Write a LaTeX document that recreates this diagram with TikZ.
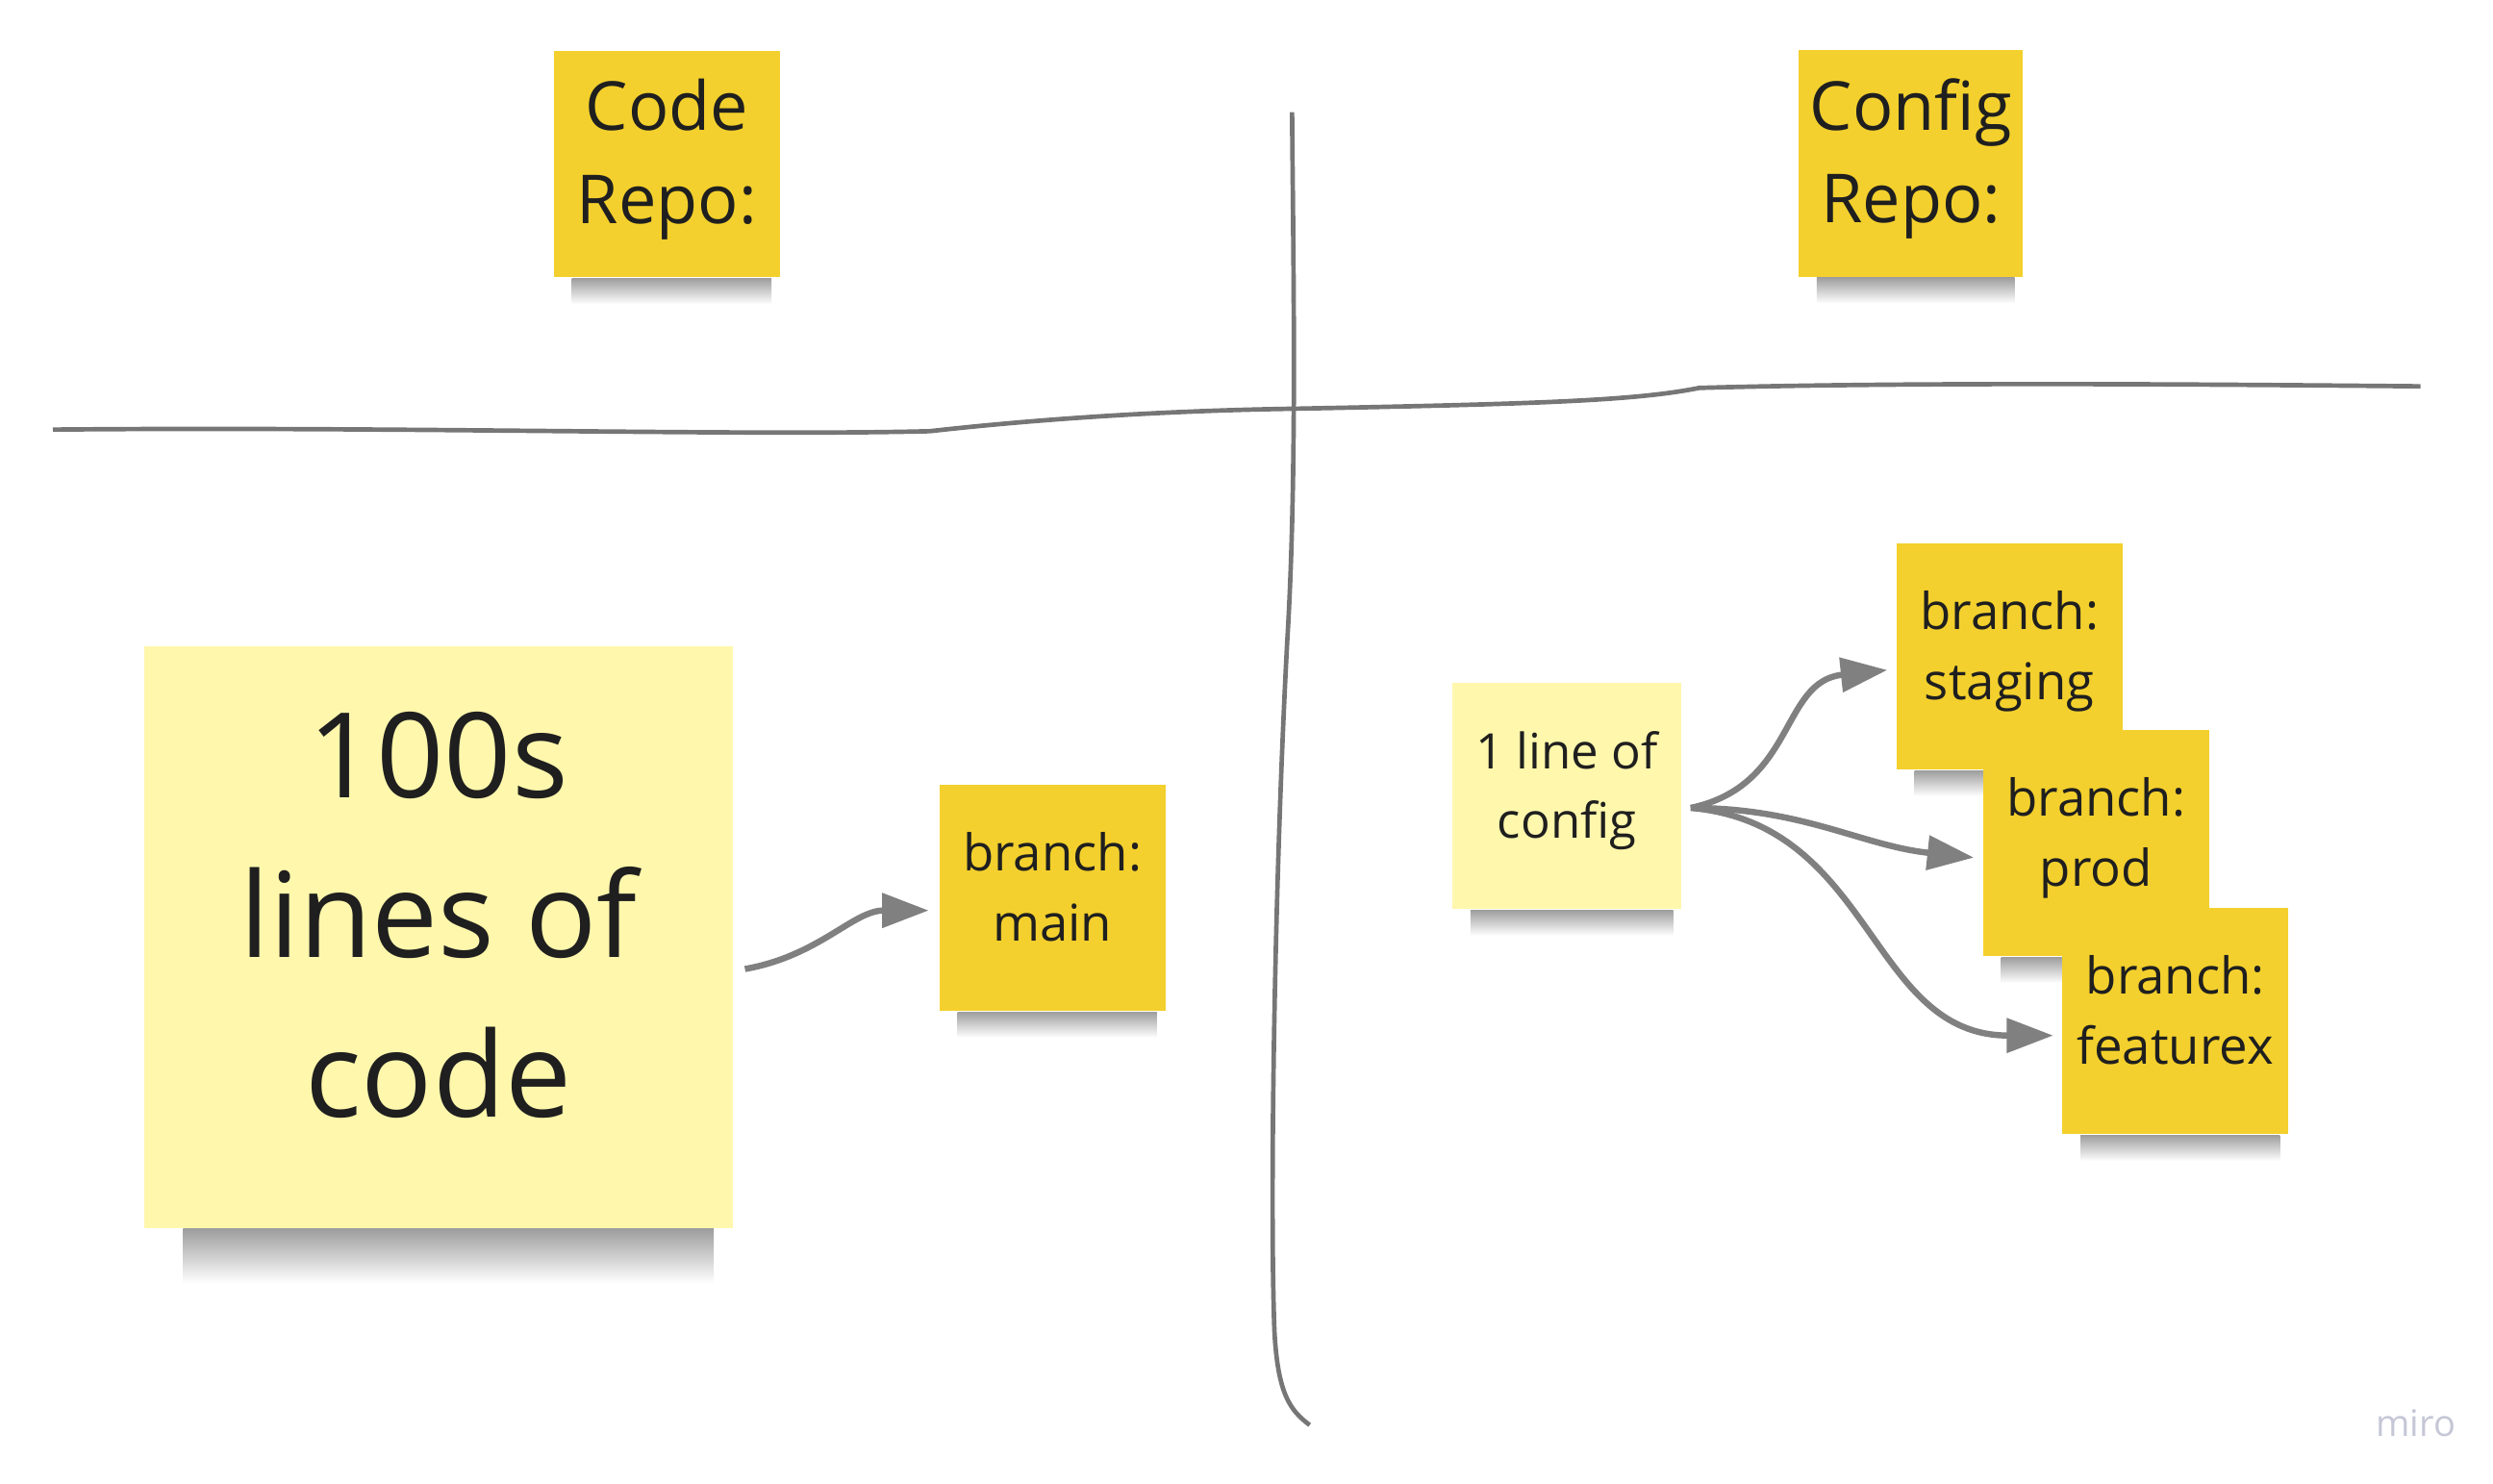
\documentclass[tikz,border=0pt]{standalone}
\usepackage{fontspec}
\setmainfont{Open Sans}
\usetikzlibrary{arrows.meta}
\pgfdeclarelayer{background}
\pgfsetlayers{background,main}

\definecolor{stickyyellow}{RGB}{243,208,45}
\definecolor{stickypale}{RGB}{255,247,172}
\definecolor{penline}{RGB}{118,118,118}
\definecolor{flowgray}{RGB}{128,128,128}
\definecolor{watermark}{RGB}{197,199,214}

\begin{document}
\begin{tikzpicture}[%
        note/.style = {%
            fill = stickyyellow,
            text = black!88,
            minimum width = 1.41cm,
            minimum height = 1.41cm,
            align = center,
            inner sep = 0pt,
            text depth = 0.14cm
        },
        pale note/.style = {%
            note,
            fill = stickypale
        },
        small text/.style = {font = \fontsize{9.0}{12.5}\selectfont},
        title text/.style = {font = \fontsize{12.0}{16.5}\selectfont},
        divider/.style = {draw = penline, line width = 0.8pt},
        flow/.style = {draw = flowgray, line width = 1.1pt},
        > = {Triangle[length = 2.9mm, width = 2.1mm]}
    ]

        % Fix the page to the size of the board.
        \useasboundingbox (0.0, 0.0) rectangle (15.552, -9.252);

        % The two headings above the board.
        \node[note, title text, text depth = 0.16cm]
            (code) at (4.16, -1.025) {Code\\Repo:};
        \node[note, title text, text depth = 0.16cm, minimum width = 1.40cm]
            (config) at (11.92, -1.02) {Config\\Repo:};

        % Hand drawn cross splitting the board in four.
        \draw[divider] (0.33, -2.68)
            .. controls (2.5, -2.66) and (4.6, -2.72) .. (5.80, -2.69)
            .. controls (6.6, -2.60) and (7.4, -2.56) .. (8.06, -2.55)
            .. controls (9.6, -2.52) and (10.2, -2.50) .. (10.60, -2.42)
            .. controls (12.0, -2.38) and (14.0, -2.40) .. (15.10, -2.41);
        \draw[divider] (8.06, -0.70)
            .. controls (8.07, -1.8) and (8.09, -3.0) .. (8.03, -4.0)
            .. controls (7.95, -5.5) and (7.92, -7.5) .. (7.95, -8.30)
            .. controls (7.97, -8.70) and (8.05, -8.80) .. (8.17, -8.89);

        % Left side: the code repo.
        \node[pale note, minimum width = 3.67cm, minimum height = 3.63cm,
              text depth = 0.28cm, font = \fontsize{21}{28.4}\selectfont]
            (hundreds) at (2.735, -5.845) {100s\\lines of\\code};
        \node[note, small text] (main) at (6.565, -5.60) {branch:\\main};

        \draw[flow, ->] ([shift = {(0.07, -0.20)}]hundreds.east)
            to [out = 10, in = 180] ([shift = {(-0.06, -0.08)}]main.west);

        % Right side: the config repo with its branches.
        \node[pale note, font = \fontsize{8.7}{12.2}\selectfont,
              minimum width = 1.43cm]
            (oneline) at (9.775, -4.965) {1 line of\\config};
        \node[note, small text] (staging) at (12.535, -4.095) {branch:\\staging};
        \node[note, small text] (prod) at (13.075, -5.26) {branch:\\prod};
        \node[note, small text] (featurex) at (13.57, -6.37) {branch:\\featurex};

        \draw[flow, ->] ([shift = {(0.05, -0.075)}]oneline.east)
            to [out = 12, in = 186, looseness = 1.15]
            ([shift = {(-0.05, -0.085)}]staging.west);
        \draw[flow, ->] ([shift = {(0.05, -0.075)}]oneline.east)
            to [out = 0, in = 174] ([shift = {(-0.05, -0.09)}]prod.west);
        \draw[flow, ->] ([shift = {(0.05, -0.075)}]oneline.east)
            to [out = -5, in = 180, looseness = 1.1]
            ([shift = {(-0.05, -0.09)}]featurex.west);

        % Soft shadows under every sticky note.
        \begin{pgfonlayer}{background}
            \foreach \n/\l/\d in {code/0.12/0.16, config/0.12/0.16,
                                  hundreds/0.25/0.34, main/0.12/0.16,
                                  oneline/0.12/0.16, staging/0.12/0.16,
                                  prod/0.12/0.16, featurex/0.12/0.16}
                \shade[top color = black!38, bottom color = white]
                    ([xshift = \l cm]\n.south west) rectangle
                    ([xshift = -0.5*\l cm, yshift = -\d cm]\n.south east);
        \end{pgfonlayer}

        % Board watermark.
        \node[text = watermark, font = \fontsize{6.5}{8}\selectfont]
            (miro) at (15.07, -8.88) {miro};
    \end{tikzpicture}
\end{document}
